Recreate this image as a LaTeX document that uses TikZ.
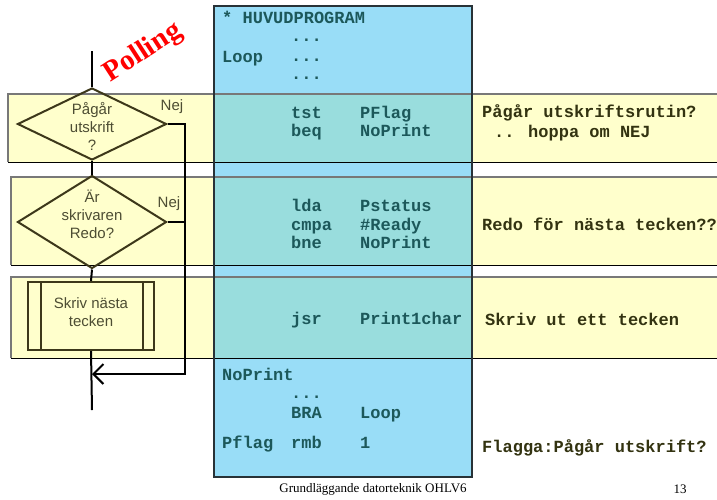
\documentclass[tikz,border=0pt]{standalone}
\usepackage{fontspec}
\setmainfont{Liberation Sans}
\newfontfamily\codefont{Liberation Mono}
\newfontfamily\seriffont{Liberation Serif}
\usetikzlibrary{shapes.geometric,arrows.meta}
\definecolor{bandyellow}{RGB}{255,255,204}
\definecolor{boxblue}{RGB}{153,221,247}
\definecolor{overlapc}{RGB}{153,221,221}
\definecolor{codeteal}{RGB}{28,88,90}
\definecolor{commentc}{RGB}{51,51,17}
\definecolor{flowline}{RGB}{61,56,26}
\definecolor{flowtext}{RGB}{77,77,51}
\definecolor{bandtop}{RGB}{120,120,120}
\definecolor{boxborder}{RGB}{40,50,55}
\tikzset{
  code/.style={font=\codefont\bfseries\fontsize{17}{20}\selectfont, text=codeteal, anchor=base west, inner sep=0pt},
  comment/.style={font=\codefont\bfseries\fontsize{17}{20}\selectfont, text=commentc, anchor=base west, inner sep=0pt},
  flowlabel/.style={font=\fontsize{15}{18}\selectfont, text=flowtext, align=center, inner sep=0pt},
  decision/.style={diamond, draw=flowline, line width=2pt, inner sep=0pt, minimum width=149pt},
  subproc/.style={rectangle, draw=flowline, fill=bandyellow, line width=2pt, inner sep=0pt, minimum width=126pt, minimum height=68pt},
  conn/.style={draw=black, line width=2pt},
  bandfill/.style={fill=bandyellow},
}
\begin{document}
\begin{tikzpicture}[x=1pt,y=-1pt]
\useasboundingbox (0,0) rectangle (717,499);
\clip (0,0) rectangle (717,499);
\fill[white] (0,0) rectangle (717,499);
% bands
\fill[bandfill] (8,94) rectangle (730,162);
\fill[bandfill] (11,177) rectangle (730,265);
\fill[bandfill] (11,277) rectangle (730,358);
% program box
\fill[boxblue] (214,6) rectangle (472,477);
\fill[overlapc] (214,94) rectangle (472,162);
\fill[overlapc] (214,177) rectangle (472,265);
\fill[overlapc] (214,277) rectangle (472,358);
% band borders
\foreach \l/\t/\b in {8/94/162, 11/177/265, 11/277/358}{
  \draw[bandtop, line width=1.6pt] (730,\t) -- (\l,\t) -- (\l,\b);
  \draw[black, line width=1pt] (\l,\b) -- (730,\b);
}
\draw[boxborder, line width=1.6pt] (214,6) rectangle (472,477);

% flowchart
\node[decision, minimum height=72pt] (d1) at (92,124) {};
\node[decision, minimum height=93pt] (d2) at (92,222) {};
\node[subproc] (p) at (91,316) {};
\draw[flowline, line width=2pt] ([xshift=14pt]p.north west) -- ([xshift=14pt]p.south west);
\draw[flowline, line width=2pt] ([xshift=-12pt]p.north east) -- ([xshift=-12pt]p.south east);
\node[flowlabel] (t1) at (92,126) {Pågår\\utskrift\\?};
\node[flowlabel] (t2) at (92,214) {Är\\skrivaren\\Redo?};
\node[flowlabel] (t3) at (91,312) {Skriv nästa\\tecken};
\node[flowlabel] (nej1) at (172,107) {Nej};
\node[flowlabel] (nej2) at (169,204) {Nej};

\coordinate (top) at (92,51);
\coordinate (bottom) at (92,410);
\coordinate (merge) at (92,374);
\coordinate (nejx) at (185,374);
\draw[conn] (top) -- (d1.north);
\draw[conn] (d1.south) -- (d2.north);
\draw[conn] (d2.south) -- (p.north);
\draw[conn] (p.south) -- (bottom);
\draw[conn, -{Straight Barb[length=10pt, width=20pt, line width=2pt]}] (d1.east) -| (nejx) -- (merge);
\draw[conn] (d2.east) -- (d2.east -| nejx);

\node[rotate=33, text=red, font=\seriffont\bfseries\fontsize{29}{30}\selectfont, inner sep=0pt] (polling) at (143,53) {Polling};

% program text
\node[code] (c1) at (222,23) {* HUVUDPROGRAM};
\node[code] (c2) at (291,41) {...};
\node[code] (c3) at (222,62) {Loop};
\node[code] (c4) at (291,61) {...};
\node[code] (c5) at (291,79) {...};
\node[code] (c6) at (291,118) {tst};
\node[code] (c7) at (360,118) {PFlag};
\node[code] (c8) at (291,136) {beq};
\node[code] (c9) at (360,136) {NoPrint};
\node[code] (c10) at (291,211) {lda};
\node[code] (c11) at (360,211) {Pstatus};
\node[code] (c12) at (291,230) {cmpa};
\node[code] (c13) at (360,230) {\#Ready};
\node[code] (c14) at (291,248) {bne};
\node[code] (c15) at (360,248) {NoPrint};
\node[code] (c16) at (291,324) {jsr};
\node[code] (c17) at (360,324) {Print1char};
\node[code] (c18) at (222,380) {NoPrint};
\node[code] (c19) at (291,398) {...};
\node[code] (c20) at (291,418) {BRA};
\node[code] (c21) at (360,418) {Loop};
\node[code] (c22) at (222,448) {Pflag};
\node[code] (c23) at (291,448) {rmb};
\node[code] (c24) at (360,448) {1};

% comments
\node[comment] (m1) at (482,117) {Pågår utskriftsrutin?};
\node[comment] (m2) at (494,137) {.. hoppa om NEJ};
\node[comment] (m3) at (482,230) {Redo för nästa tecken??};
\node[comment] (m4) at (485,325) {Skriv ut ett tecken};
\node[comment] (m5) at (482,452) {Flagga:Pågår utskrift?};

% footer
\node[font=\seriffont\fontsize{13}{15}\selectfont, anchor=base, inner sep=0pt] (foot) at (373,492) {Grundläggande datorteknik OHLV6};
\node[font=\seriffont\fontsize{13}{15}\selectfont, anchor=base, inner sep=0pt] (pg) at (680,493) {13};
\end{tikzpicture}
\end{document}
